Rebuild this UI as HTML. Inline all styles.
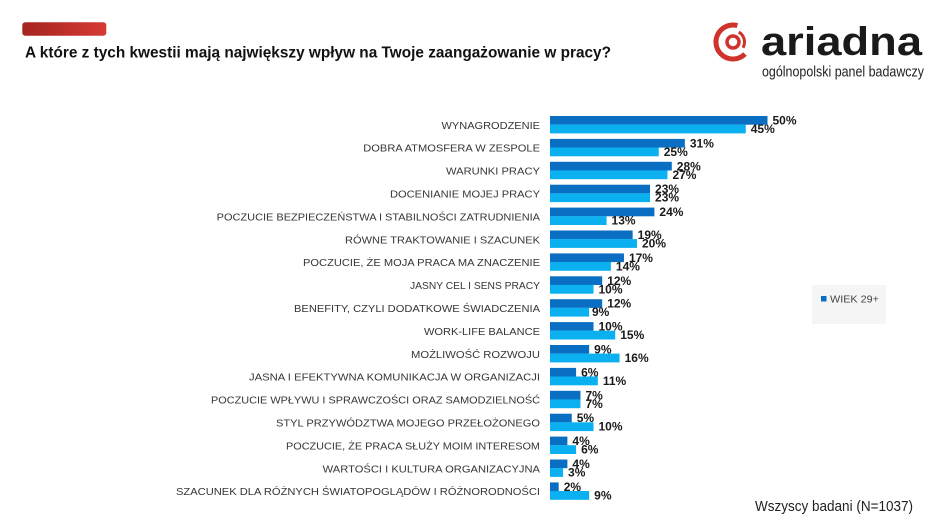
<!DOCTYPE html>
<html>
<head>
<meta charset="utf-8">
<style>
html,body{margin:0;padding:0;background:#fff;}
svg{display:block;}
text{font-family:"Liberation Sans","DejaVu Sans",sans-serif;}
.cat{font-size:10.5px;fill:#363636;}
.val{font-size:12px;font-weight:bold;fill:#1a1a1a;}
.d{fill:#0a6fc2;}
.l{fill:#0ab0ef;}
</style>
</head>
<body>
<svg width="943" height="531" viewBox="0 0 943 531" xmlns="http://www.w3.org/2000/svg">
<defs>
<linearGradient id="rg" x1="0" x2="1" y1="0" y2="0">
<stop offset="0" stop-color="#a52420"/>
<stop offset="1" stop-color="#d63a33"/>
</linearGradient>
</defs>
<rect x="22.3" y="22.3" width="84" height="13.4" rx="3" fill="url(#rg)"/>
<text x="25" y="57.5" font-size="16" font-weight="bold" fill="#111" textLength="586" lengthAdjust="spacingAndGlyphs">A które z tych kwestii mają największy wpływ na Twoje zaangażowanie w pracy?</text>

<!-- logo -->
<g fill="none" stroke="#d0322c">
<path d="M737.4 25.6 A17 17 0 1 0 745 54" stroke-width="5"/>
<path d="M738.75 32.04 A11.5 11.5 0 0 1 742.96 47.75" stroke-width="3"/>
<circle cx="733" cy="42" r="6" stroke-width="3.5"/>
</g>
<text x="761" y="55" font-size="40" font-weight="bold" fill="#1a1a1a" textLength="161" lengthAdjust="spacingAndGlyphs">ariadna</text>
<text x="762" y="76.7" font-size="14.5" fill="#222" textLength="162" lengthAdjust="spacingAndGlyphs">ogólnopolski panel badawczy</text>

<!-- category labels -->
<g class="cat" text-anchor="end">
<text x="540" y="128.8" textLength="98.5" lengthAdjust="spacingAndGlyphs">WYNAGRODZENIE</text>
<text x="540" y="151.7" textLength="176.7" lengthAdjust="spacingAndGlyphs">DOBRA ATMOSFERA W ZESPOLE</text>
<text x="540" y="174.6" textLength="94" lengthAdjust="spacingAndGlyphs">WARUNKI PRACY</text>
<text x="540" y="197.5" textLength="150" lengthAdjust="spacingAndGlyphs">DOCENIANIE MOJEJ PRACY</text>
<text x="540" y="220.4" textLength="323.3" lengthAdjust="spacingAndGlyphs">POCZUCIE BEZPIECZEŃSTWA I STABILNOŚCI ZATRUDNIENIA</text>
<text x="540" y="243.3" textLength="195" lengthAdjust="spacingAndGlyphs">RÓWNE TRAKTOWANIE I SZACUNEK</text>
<text x="540" y="266.2" textLength="237" lengthAdjust="spacingAndGlyphs">POCZUCIE, ŻE MOJA PRACA MA ZNACZENIE</text>
<text x="540" y="289.1" textLength="130" lengthAdjust="spacingAndGlyphs">JASNY CEL I SENS PRACY</text>
<text x="540" y="312" textLength="246" lengthAdjust="spacingAndGlyphs">BENEFITY, CZYLI DODATKOWE ŚWIADCZENIA</text>
<text x="540" y="334.9" textLength="116" lengthAdjust="spacingAndGlyphs">WORK-LIFE BALANCE</text>
<text x="540" y="357.8" textLength="129" lengthAdjust="spacingAndGlyphs">MOŻLIWOŚĆ ROZWOJU</text>
<text x="540" y="380.7" textLength="291" lengthAdjust="spacingAndGlyphs">JASNA I EFEKTYWNA KOMUNIKACJA W ORGANIZACJI</text>
<text x="540" y="403.6" textLength="329" lengthAdjust="spacingAndGlyphs">POCZUCIE WPŁYWU I SPRAWCZOŚCI ORAZ SAMODZIELNOŚĆ</text>
<text x="540" y="426.5" textLength="264" lengthAdjust="spacingAndGlyphs">STYL PRZYWÓDZTWA MOJEGO PRZEŁOŻONEGO</text>
<text x="540" y="449.4" textLength="254" lengthAdjust="spacingAndGlyphs">POCZUCIE, ŻE PRACA SŁUŻY MOIM INTERESOM</text>
<text x="540" y="472.3" textLength="217.3" lengthAdjust="spacingAndGlyphs">WARTOŚCI I KULTURA ORGANIZACYJNA</text>
<text x="540" y="495.2" textLength="364" lengthAdjust="spacingAndGlyphs">SZACUNEK DLA RÓŻNYCH ŚWIATOPOGLĄDÓW I RÓŻNORODNOŚCI</text>
</g>

<!-- bars -->
<g>
<rect class="d" x="550" y="116" width="217.5" height="8.7"/><rect class="l" x="550" y="124.6" width="195.75" height="8.8"/>
<rect class="d" x="550" y="138.9" width="134.85" height="8.7"/><rect class="l" x="550" y="147.5" width="108.75" height="8.8"/>
<rect class="d" x="550" y="161.8" width="121.8" height="8.7"/><rect class="l" x="550" y="170.4" width="117.45" height="8.8"/>
<rect class="d" x="550" y="184.7" width="100.05" height="8.7"/><rect class="l" x="550" y="193.3" width="100.05" height="8.8"/>
<rect class="d" x="550" y="207.6" width="104.4" height="8.7"/><rect class="l" x="550" y="216.2" width="56.55" height="8.8"/>
<rect class="d" x="550" y="230.5" width="82.65" height="8.7"/><rect class="l" x="550" y="239.1" width="87" height="8.8"/>
<rect class="d" x="550" y="253.4" width="73.95" height="8.7"/><rect class="l" x="550" y="262" width="60.9" height="8.8"/>
<rect class="d" x="550" y="276.3" width="52.2" height="8.7"/><rect class="l" x="550" y="284.9" width="43.5" height="8.8"/>
<rect class="d" x="550" y="299.2" width="52.2" height="8.7"/><rect class="l" x="550" y="307.8" width="39.15" height="8.8"/>
<rect class="d" x="550" y="322.1" width="43.5" height="8.7"/><rect class="l" x="550" y="330.7" width="65.25" height="8.8"/>
<rect class="d" x="550" y="345" width="39.15" height="8.7"/><rect class="l" x="550" y="353.6" width="69.6" height="8.8"/>
<rect class="d" x="550" y="367.9" width="26.1" height="8.7"/><rect class="l" x="550" y="376.5" width="47.85" height="8.8"/>
<rect class="d" x="550" y="390.8" width="30.45" height="8.7"/><rect class="l" x="550" y="399.4" width="30.45" height="8.8"/>
<rect class="d" x="550" y="413.7" width="21.75" height="8.7"/><rect class="l" x="550" y="422.3" width="43.5" height="8.8"/>
<rect class="d" x="550" y="436.6" width="17.4" height="8.7"/><rect class="l" x="550" y="445.2" width="26.1" height="8.8"/>
<rect class="d" x="550" y="459.5" width="17.4" height="8.7"/><rect class="l" x="550" y="468.1" width="13.05" height="8.8"/>
<rect class="d" x="550" y="482.4" width="8.7" height="8.7"/><rect class="l" x="550" y="491" width="39.15" height="8.8"/>
</g>

<!-- value labels -->
<g class="val">
<text x="772.5" y="124.5">50%</text><text x="750.75" y="133">45%</text>
<text x="689.85" y="147.4">31%</text><text x="663.75" y="155.9">25%</text>
<text x="676.8" y="170.3">28%</text><text x="672.45" y="178.8">27%</text>
<text x="655.05" y="193.2">23%</text><text x="655.05" y="201.7">23%</text>
<text x="659.4" y="216.1">24%</text><text x="611.55" y="224.6">13%</text>
<text x="637.65" y="239">19%</text><text x="642" y="247.5">20%</text>
<text x="628.95" y="261.9">17%</text><text x="615.9" y="270.4">14%</text>
<text x="607.2" y="284.8">12%</text><text x="598.5" y="293.3">10%</text>
<text x="607.2" y="307.7">12%</text><text x="592" y="316.2">9%</text>
<text x="598.5" y="330.6">10%</text><text x="620.25" y="339.1">15%</text>
<text x="594.15" y="353.5">9%</text><text x="624.6" y="362">16%</text>
<text x="581.1" y="376.4">6%</text><text x="602.85" y="384.9">11%</text>
<text x="585.45" y="399.3">7%</text><text x="585.45" y="407.8">7%</text>
<text x="576.75" y="422.2">5%</text><text x="598.5" y="430.7">10%</text>
<text x="572.4" y="445.1">4%</text><text x="581.1" y="453.6">6%</text>
<text x="572.4" y="468">4%</text><text x="568.05" y="476.5">3%</text>
<text x="563.7" y="490.9">2%</text><text x="594.15" y="499.4">9%</text>
</g>

<!-- legend -->
<rect x="812" y="285" width="74" height="39" fill="#f5f5f5"/>
<rect x="821" y="296" width="5.5" height="5.5" fill="#0a6fc2"/>
<text x="830" y="302.5" font-size="10.5" fill="#444" textLength="49" lengthAdjust="spacingAndGlyphs">WIEK 29+</text>

<!-- footer -->
<text x="755" y="511" font-size="14.5" fill="#222" textLength="158" lengthAdjust="spacingAndGlyphs">Wszyscy badani (N=1037)</text>
</svg>
</body>
</html>
